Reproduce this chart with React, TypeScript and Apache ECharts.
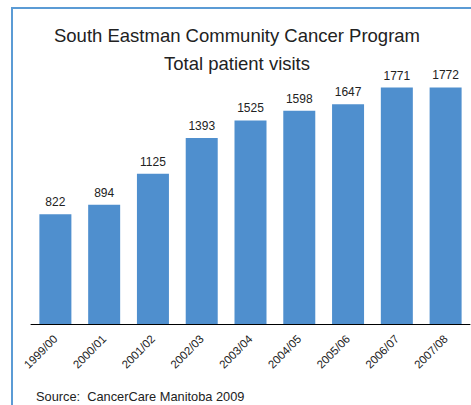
import React, { useEffect, useRef } from "react";
import * as echarts from "echarts";

const categories = ["1999/00", "2000/01", "2001/02", "2002/03", "2003/04", "2004/05", "2005/06", "2006/07", "2007/08"];
const visits = [822, 894, 1125, 1393, 1525, 1598, 1647, 1771, 1772];
const titleLines = ["South Eastman Community Cancer Program", "Total patient visits"];
const sourceText = "Source:  CancerCare Manitoba 2009";

export default function App() {
  const ref = useRef<HTMLDivElement>(null);
  useEffect(() => {
    if (!ref.current) return;
    const chart = echarts.init(ref.current, null, { renderer: "svg" });
    const font = "Liberation Sans, Arial, sans-serif";
    chart.setOption({
      animation: false,
      backgroundColor: "#ffffff",
      title: {
        text: titleLines.join("\n"),
        left: 232,
        top: 16,
        textAlign: "center",
        textStyle: { fontFamily: font, fontSize: 18.5, fontWeight: "normal", color: "#222222", lineHeight: 28 },
      },
      graphic: [
        {
          type: "rect",
          shape: { x: 12, y: 8, width: 480, height: 420 },
          style: { fill: "none", stroke: "#5b9bd5", lineWidth: 2 },
        },
        {
          type: "text",
          left: 36,
          top: 390,
          style: { text: sourceText, fontFamily: font, fontSize: 12.8, fill: "#222222" },
        },
      ],
      grid: { left: 31, right: 1, top: 57, bottom: 81, containLabel: false },
      xAxis: {
        type: "category",
        data: categories,
        axisLine: { show: true, lineStyle: { color: "#000000", width: 1 } },
        axisTick: { show: false },
        axisLabel: { rotate: 45, fontFamily: font, fontSize: 11.5, color: "#222222", margin: 13, interval: 0 },
      },
      yAxis: {
        type: "value",
        min: 0,
        max: 2000,
        show: false,
        splitLine: { show: false },
      },
      series: [
        {
          type: "bar",
          data: visits,
          barWidth: 32,
          itemStyle: { color: "#4f8fce" },
          label: {
            show: true,
            position: "top",
            distance: 6,
            fontFamily: font,
            fontSize: 12,
            color: "#222222",
          },
        },
      ],
    });
    return () => chart.dispose();
  }, []);
  return <div ref={ref} style={{ width: 471, height: 405, position: "absolute", left: 0, top: 0 }} />;
}
